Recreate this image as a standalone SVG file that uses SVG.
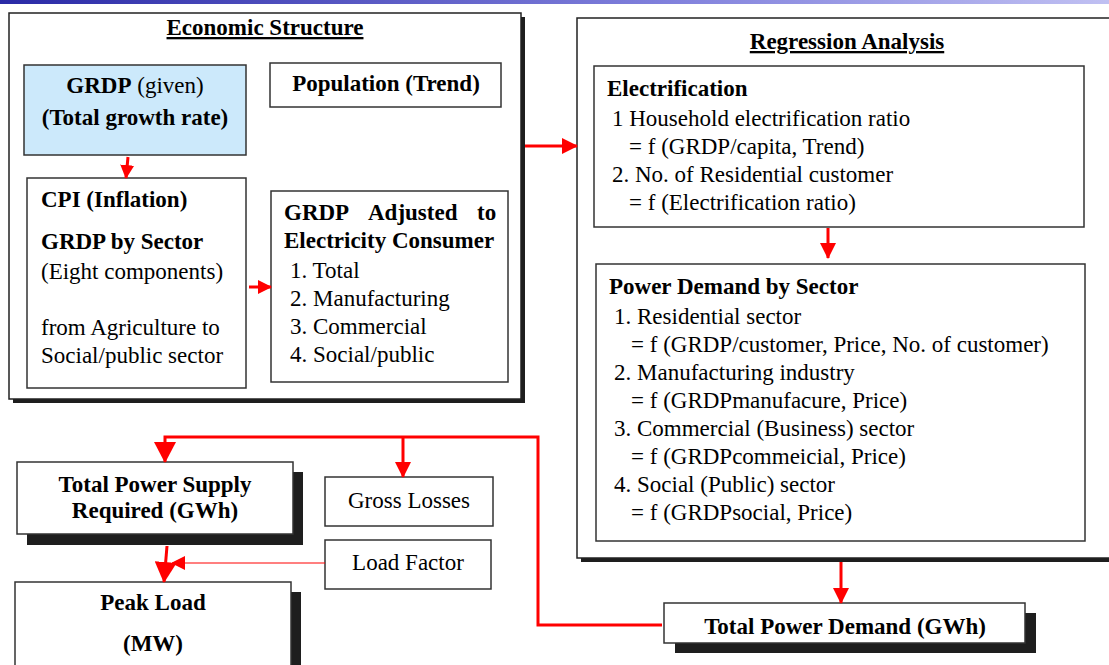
<svg xmlns="http://www.w3.org/2000/svg" width="1109" height="665" viewBox="0 0 1109 665">
<defs>
<linearGradient id="topbar" x1="0" y1="0" x2="1" y2="0">
<stop offset="0" stop-color="#2a2aa6"/>
<stop offset="0.6" stop-color="#8080dc"/>
<stop offset="1" stop-color="#c0c0f2"/>
</linearGradient>
<marker id="ah" markerUnits="userSpaceOnUse" markerWidth="16" markerHeight="16" refX="15" refY="8" orient="auto">
<path d="M0,0 L16,8 L0,16 z" fill="#ff0000"/>
</marker>
<marker id="ahs" markerUnits="userSpaceOnUse" markerWidth="14" markerHeight="14" refX="13" refY="7" orient="auto">
<path d="M0,0 L14,7 L0,14 z" fill="#ff0000"/>
</marker>
<marker id="ahl" markerUnits="userSpaceOnUse" markerWidth="22" markerHeight="22" refX="20" refY="11" orient="auto">
<path d="M0,0 L21,11 L0,22 z" fill="#ff0000"/>
</marker>
</defs>
<style>
text{font-family:"Liberation Serif","Times New Roman",serif;font-size:23px;fill:#000}
.b{font-weight:bold}
.u{text-decoration:underline}
.c{text-anchor:middle}
.box{fill:#fff;stroke:#333;stroke-width:1.5}
.outer{fill:#fff;stroke:#222;stroke-width:1.5}
.sh{fill:#1e1e1e}
.red{fill:none;stroke:#ff0000;stroke-width:3}
.redt{fill:none;stroke:#ff0000;stroke-width:1.2}
</style>
<rect width="1109" height="665" fill="#fff"/>
<rect x="0" y="0" width="1109" height="4" fill="url(#topbar)"/>

<g id="economic-structure">
<rect class="sh" x="13" y="17" width="512" height="386"/>
<rect class="outer" x="9" y="13" width="512" height="386"/>
<text class="b u c" x="265" y="35">Economic Structure</text>
</g>

<g id="grdp-given">
<rect x="24" y="65" width="222" height="90" fill="#cce9fb" stroke="#333" stroke-width="1.5"/>
<text class="c" x="135" y="93"><tspan class="b">GRDP</tspan> (given)</text>
<text class="b c" x="135" y="125">(Total growth rate)</text>
</g>

<g id="population">
<rect class="box" x="270" y="63" width="231" height="44"/>
<text class="b c" x="386" y="91">Population (Trend)</text>
</g>

<g id="cpi">
<rect class="box" x="27" y="178" width="219" height="210"/>
<text class="b" x="41" y="207">CPI (Inflation)</text>
<text class="b" x="41" y="249">GRDP by Sector</text>
<text x="41" y="279">(Eight components)</text>
<text x="41" y="335">from Agriculture to</text>
<text x="41" y="363">Social/public sector</text>
</g>

<g id="grdp-adjusted">
<rect class="box" x="271" y="191" width="237" height="191"/>
<text class="b" y="220"><tspan x="284">GRDP</tspan><tspan x="368">Adjusted</tspan><tspan x="477">to</tspan></text>
<text class="b" x="284" y="248">Electricity Consumer</text>
<text x="290" y="278">1. Total</text>
<text x="290" y="306">2. Manufacturing</text>
<text x="290" y="334">3. Commercial</text>
<text x="290" y="362">4. Social/public</text>
</g>

<g id="regression-analysis">
<rect class="sh" x="581" y="22" width="540" height="540"/>
<rect class="outer" x="577" y="18" width="540" height="540"/>
<text class="b u c" x="847" y="49">Regression Analysis</text>
</g>

<g id="electrification">
<rect class="box" x="594" y="66" width="490" height="161"/>
<text class="b" x="607" y="96">Electrification</text>
<text x="612" y="126">1 Household electrification ratio</text>
<text x="629" y="154">= f (GRDP/capita, Trend)</text>
<text x="612" y="182">2. No. of Residential customer</text>
<text x="629" y="210">= f (Electrification ratio)</text>
</g>

<g id="power-demand-by-sector">
<rect class="box" x="596" y="264" width="489" height="277"/>
<text class="b" x="609" y="294">Power Demand by Sector</text>
<text x="614" y="324">1. Residential sector</text>
<text x="631" y="352">= f (GRDP/customer, Price, No. of customer)</text>
<text x="614" y="380">2. Manufacturing industry</text>
<text x="631" y="408">= f (GRDPmanufacure, Price)</text>
<text x="614" y="436">3. Commercial (Business) sector</text>
<text x="631" y="464">= f (GRDPcommeicial, Price)</text>
<text x="614" y="492">4. Social (Public) sector</text>
<text x="631" y="520">= f (GRDPsocial, Price)</text>
</g>

<g id="total-power-demand">
<rect class="sh" x="675" y="613" width="361" height="40"/>
<rect class="box" x="664" y="603" width="361" height="40"/>
<text class="b c" x="845" y="634">Total Power Demand (GWh)</text>
</g>

<g id="total-power-supply">
<rect class="sh" x="27" y="472" width="276" height="73"/>
<rect class="box" x="17" y="462" width="276" height="72"/>
<text class="b c" x="155" y="492">Total Power Supply</text>
<text class="b c" x="155" y="518">Required (GWh)</text>
</g>

<g id="gross-losses">
<rect class="box" x="325" y="477" width="168" height="49"/>
<text class="c" x="409" y="508">Gross Losses</text>
</g>

<g id="load-factor">
<rect class="box" x="325" y="540" width="166" height="49"/>
<text class="c" x="408" y="570">Load Factor</text>
</g>

<g id="peak-load">
<rect class="sh" x="25" y="592" width="276" height="90"/>
<rect class="box" x="15" y="582" width="276" height="90"/>
<text class="b c" x="153" y="610">Peak Load</text>
<text class="b c" x="153" y="651">(MW)</text>
</g>

<g id="connectors">
<path class="red" d="M128,157 L126,178" stroke-width="2.5" marker-end="url(#ahs)"/>
<path class="red" d="M249,287 L271,287" stroke-width="2.5" marker-end="url(#ahs)"/>
<path class="red" d="M525,146 L577,146" marker-end="url(#ah)"/>
<path class="red" d="M828,228 L828,258" stroke-width="2.5" marker-end="url(#ah)"/>
<path class="red" d="M841,562 L841,603" marker-end="url(#ah)"/>
<path class="red" d="M662,625 L538,625 L538,437 L165,437 L165,462" marker-end="url(#ahl)"/>
<path class="red" d="M403,437 L403,477" marker-end="url(#ah)"/>
<path class="redt" d="M325,563 L172,563" marker-end="url(#ahs)"/>
<path class="red" d="M167,546 L164,582" stroke-width="4" marker-end="url(#ahl)"/>
</g>
</svg>
